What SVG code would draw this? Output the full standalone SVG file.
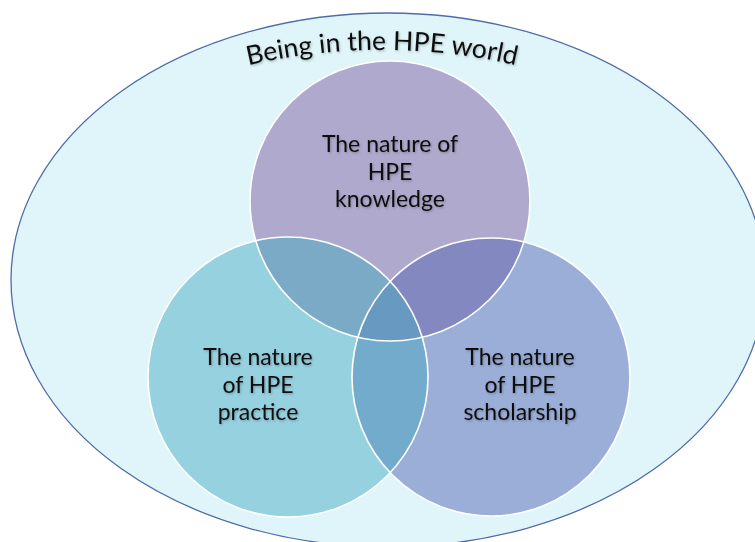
<svg xmlns="http://www.w3.org/2000/svg" width="755" height="542" viewBox="0 0 755 542">
  <style>
    .lbl { font-family: Lato, "Liberation Sans", sans-serif; font-size: 23px; fill: #111111; text-anchor: middle; }
    .title { font-family: Lato, "Liberation Sans", sans-serif; font-size: 26.5px; fill: #111111; }
    .ring { fill: none; stroke: #ffffff; stroke-width: 1.6; }
  </style>
  <defs>
    <filter id="shadow" x="-10%" y="-20%" width="120%" height="140%">
      <feDropShadow dx="1" dy="1.2" stdDeviation="0.8" flood-color="#000000" flood-opacity="0.25"/>
    </filter>
    <circle id="cKnow" cx="390" cy="201" r="140"/>
    <circle id="cPrac" cx="288" cy="377" r="140"/>
    <circle id="cScho" cx="491" cy="377" r="139"/>
    <clipPath id="clipKnow"><use href="#cKnow"/></clipPath>
    <clipPath id="clipPrac"><use href="#cPrac"/></clipPath>
    <path id="arcTitle" d="M190,82 A590,590 0 0 1 574,82"/>
  </defs>

  <!-- outer field -->
  <g id="world">
    <ellipse cx="388" cy="280" rx="377" ry="267" fill="#dff5fa" stroke="#4f6ca8" stroke-width="1.3"/>
    <text class="title" filter="url(#shadow)"><textPath href="#arcTitle" startOffset="50%" text-anchor="middle">Being in the HPE world</textPath></text>
  </g>

  <!-- three circles -->
  <g id="knowledge">
    <use href="#cKnow" fill="#afaacd"/>
  </g>
  <g id="practice">
    <use href="#cPrac" fill="#96d1e0"/>
  </g>
  <g id="scholarship">
    <use href="#cScho" fill="#9aaed8"/>
  </g>

  <!-- overlap regions -->
  <g id="overlaps">
    <g clip-path="url(#clipKnow)">
      <use href="#cPrac" fill="#7baac6"/>
      <use href="#cScho" fill="#8488c0"/>
    </g>
    <g clip-path="url(#clipPrac)">
      <use href="#cScho" fill="#72abcc"/>
    </g>
    <g clip-path="url(#clipKnow)">
      <g clip-path="url(#clipPrac)">
        <use href="#cScho" fill="#6899c1"/>
      </g>
    </g>
  </g>

  <!-- white outlines -->
  <g id="outlines">
    <use href="#cKnow" class="ring"/>
    <use href="#cPrac" class="ring"/>
    <use href="#cScho" class="ring"/>
  </g>

  <!-- labels -->
  <g id="labels" filter="url(#shadow)">
    <text class="lbl" x="390" y="152">The nature of</text>
    <text class="lbl" x="390" y="180">HPE</text>
    <text class="lbl" x="390" y="207">knowledge</text>

    <text class="lbl" x="258" y="365">The nature</text>
    <text class="lbl" x="258" y="393">of HPE</text>
    <text class="lbl" x="258" y="420">practice</text>

    <text class="lbl" x="520" y="365">The nature</text>
    <text class="lbl" x="520" y="393">of HPE</text>
    <text class="lbl" x="520" y="420">scholarship</text>
  </g>
</svg>
